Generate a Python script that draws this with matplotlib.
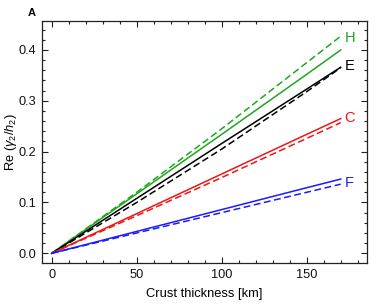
import matplotlib

matplotlib.use("Agg")
import matplotlib.pyplot as plt
from matplotlib.ticker import MultipleLocator

plt.rcParams["font.family"] = ["Liberation Sans", "DejaVu Sans"]
plt.rcParams["mathtext.fontset"] = "custom"
plt.rcParams["mathtext.it"] = "Liberation Sans:italic"
plt.rcParams["mathtext.rm"] = "Liberation Sans"

# crust thickness [km]
thickness = [0, 50, 100, 150, 170]

# Re(gamma2/h2) per model, solid and dashed variants
h_solid = [0, 0.117, 0.234, 0.352, 0.400]
h_dashed = [0, 0.120, 0.245, 0.375, 0.427]
e_solid = [0, 0.108, 0.216, 0.323, 0.366]
e_dashed = [0, 0.100, 0.205, 0.318, 0.365]
c_solid = [0, 0.078, 0.156, 0.234, 0.265]
c_dashed = [0, 0.074, 0.149, 0.226, 0.257]
f_solid = [0, 0.043, 0.086, 0.129, 0.146]
f_dashed = [0, 0.040, 0.080, 0.120, 0.136]

labels = ["H", "E", "C", "F"]
label_y = [0.423, 0.368, 0.267, 0.139]
colors = ["#1ca81c", "black", "#f01515", "#1a1aff"]

fig = plt.figure(figsize=(3.82, 3.04), dpi=100)
ax = fig.add_axes([0.110, 0.135, 0.850, 0.796])

series = [(h_solid, h_dashed), (e_solid, e_dashed), (c_solid, c_dashed), (f_solid, f_dashed)]
for (solid, dashed), color in zip(series, colors):
    ax.plot(thickness, solid, color=color, lw=1.1)
    ax.plot(thickness, dashed, color=color, lw=1.1, dashes=(4.5, 2.3))

for name, y, color in zip(labels, label_y, colors):
    ax.text(172.3, y, name, color=color, fontsize=10.5, ha="left", va="center")

ax.set_xlim(-5.7, 185.3)
ax.set_ylim(-0.019, 0.457)
ax.xaxis.set_major_locator(MultipleLocator(50))
ax.xaxis.set_minor_locator(MultipleLocator(10))
ax.yaxis.set_major_locator(MultipleLocator(0.1))
ax.yaxis.set_minor_locator(MultipleLocator(0.02))
ax.yaxis.set_major_formatter(lambda v, pos: f"{v:.1f}")
ax.tick_params(which="both", direction="in", top=True, right=True,
               colors="#222222", labelsize=9.2, width=0.8, labelcolor="#111111")
ax.tick_params(which="major", length=4, pad=4.5)
ax.tick_params(which="minor", length=2.2)
for spine in ax.spines.values():
    spine.set_color("#222222")
    spine.set_linewidth(0.9)

ax.set_xlabel("Crust thickness [km]", fontsize=9.3, labelpad=5)
ax.set_ylabel(r"Re $(\gamma_2/h_2)$", fontsize=9.3, va="center")
ax.yaxis.set_label_coords(-0.094, 0.5)
fig.text(0.073, 0.975, "A", fontsize=8, fontweight="bold", ha="left", va="top")

fig.savefig("out.png", dpi=100)
